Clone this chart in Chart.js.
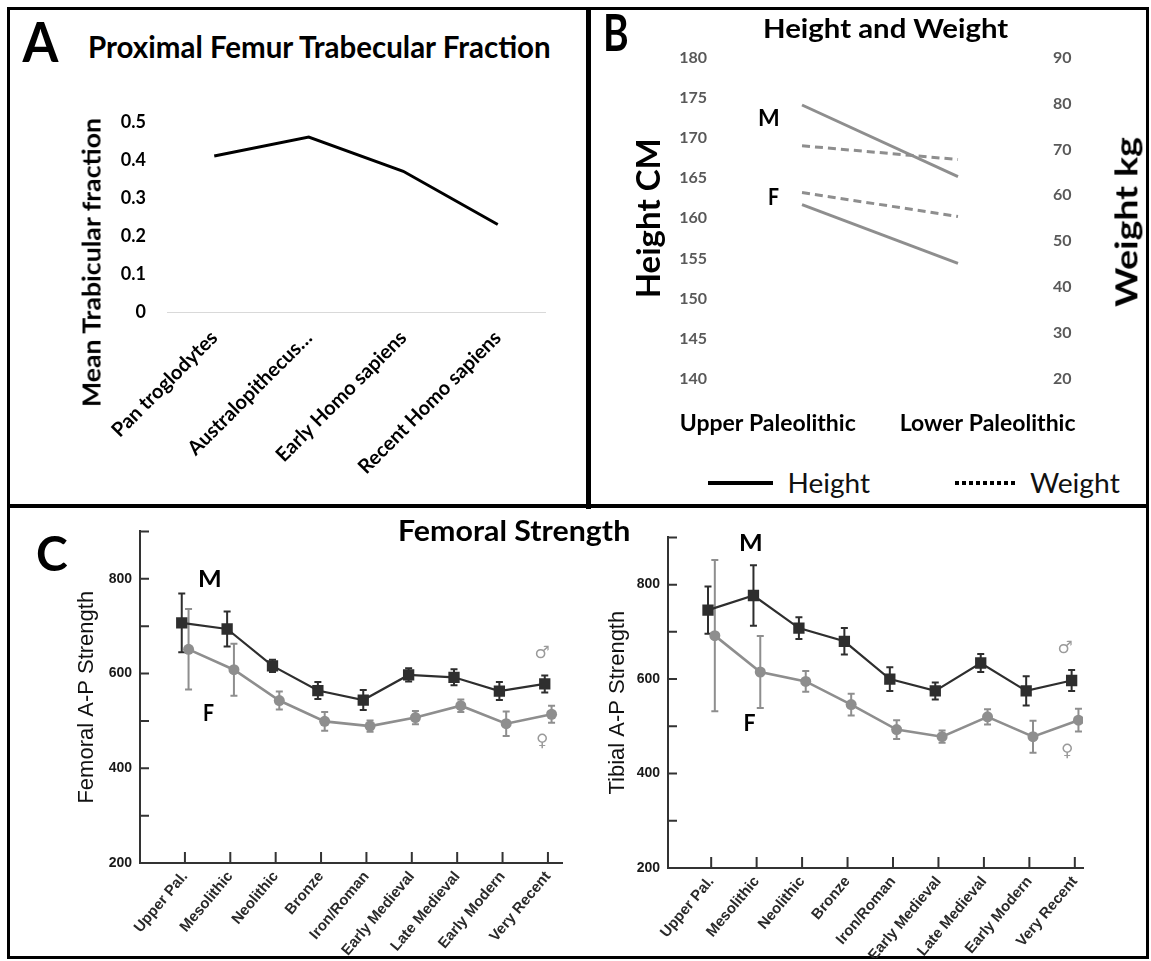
<!DOCTYPE html>
<html>
<head>
<meta charset="utf-8">
<script src="https://cdn.jsdelivr.net/npm/chart.js@4.4.1/dist/chart.umd.min.js"></script>
<style>
  html, body { margin: 0; padding: 0; background: #fff; }
  #fig { position: relative; width: 1151px; height: 961px; overflow: hidden; background: #fff; }
  .rule { position: absolute; background: #000; }
  canvas { position: absolute; }
  .txt { position: absolute; white-space: nowrap; line-height: 1; color: #000; }
</style>
</head>
<body>
<div id="fig">
  <!-- frame and panel dividers -->
  <div style="position:absolute;left:7px;top:7px;width:1142px;height:952px;box-sizing:border-box;border:3px solid #000"></div>
  <div class="rule" style="left:586px;top:7px;width:5px;height:502px"></div>
  <div class="rule" style="left:7px;top:504px;width:1142px;height:4px"></div>

  <canvas id="chartA" width="500" height="410" style="left:60px;top:90px"></canvas>
  <canvas id="chartB" width="545" height="410" style="left:600px;top:40px"></canvas>
  <canvas id="chartFemur" width="530" height="443" style="left:40px;top:515px"></canvas>
  <canvas id="chartTibia" width="500" height="437" style="left:600px;top:521px"></canvas>

  <!-- legend of panel B -->
  <div class="rule" style="left:708px;top:481px;width:65px;height:4px"></div>
  <div style="position:absolute;left:955px;top:481px;width:63px;height:4px;background:repeating-linear-gradient(to right,#000 0 4px,transparent 4px 7px)"></div>
</div>

<script>
// Panel A: proximal femur trabecular fraction
const groupsA = ['Pan troglodytes', 'Australopithecus…', 'Early Homo sapiens', 'Recent Homo sapiens'];
const trabFraction = [0.41, 0.46, 0.37, 0.23];

// Panel B: height (cm) and weight (kg)
const periodsB = ['Upper Paleolithic', 'Lower Paleolithic'];
const heightMale = [174.1, 165.2];
const heightFemale = [161.7, 154.4];
const weightMale = [70.8, 67.8];
const weightFemale = [60.6, 55.4];

// Panel C: femoral and tibial A-P strength, mean and error
const periodsC = ['Upper Pal.', 'Mesolithic', 'Neolithic', 'Bronze', 'Iron/Roman', 'Early Medieval', 'Late Medieval', 'Early Modern', 'Very Recent'];
const femurMale = [707, 694, 616, 564, 544, 597, 592, 563, 578];
const femurMaleErr = [62, 37, 13, 18, 21, 14, 17, 19, 18];
const femurFemale = [651, 608, 543, 499, 489, 507, 532, 494, 514];
const femurFemaleErr = [85, 55, 19, 20, 12, 14, 13, 26, 18];
const tibiaMale = [746, 777, 708, 680, 600, 575, 634, 575, 597];
const tibiaMaleErr = [50, 64, 23, 28, 25, 18, 19, 31, 22];
const tibiaFemale = [692, 615, 595, 546, 493, 478, 520, 478, 513];
const tibiaFemaleErr = [160, 76, 22, 23, 20, 13, 16, 34, 24];

Chart.defaults.font.family = 'Lato';
Chart.defaults.animation = false;

const fig = document.getElementById('fig');
const lineGray = '#8e8e8e';
const darkGray = '#2e2e2e';

// text helper: centred at (x, y), stretched to the given width
function addText(str, o) {
  const el = document.createElement('div');
  el.className = 'txt';
  el.textContent = str;
  el.style.font = o.font;
  if (o.color) el.style.color = o.color;
  fig.appendChild(el);
  const w = el.offsetWidth, h = el.offsetHeight;
  const sx = o.width ? o.width / w : 1;
  el.style.left = (o.x - w / 2) + 'px';
  el.style.top = (o.y - h / 2) + 'px';
  el.style.transform = 'rotate(' + (o.rot || 0) + 'deg) scaleX(' + sx + ')';
}

// ---------- Panel A ----------
new Chart(document.getElementById('chartA'), {
  type: 'line',
  data: {
    labels: groupsA,
    datasets: [{
      data: trabFraction,
      borderColor: '#000',
      borderWidth: 3,
      pointRadius: 0,
      tension: 0
    }]
  },
  options: {
    responsive: false,
    layout: { padding: { top: 27, right: 15 } },
    plugins: { legend: { display: false }, tooltip: { enabled: false } },
    scales: {
      x: {
        type: 'category',
        offset: true,
        grid: { display: false, drawTicks: false },
        border: { display: true, color: '#d9d9d9', width: 1 },
        ticks: {
          font: { size: 20, weight: 'bold' },
          color: '#000',
          minRotation: 45,
          maxRotation: 45,
          autoSkip: false,
          padding: 14
        },
        afterFit: function(s) { s.height = 188; }
      },
      y: {
        min: 0,
        max: 0.5,
        grid: { display: false, drawTicks: false },
        border: { display: false },
        ticks: {
          stepSize: 0.1,
          font: { size: 18, weight: 'bold' },
          color: '#000',
          padding: 21,
          callback: function(v) { return v === 0 ? '0' : v.toFixed(1); }
        },
        afterFit: function(s) { s.width = 107; }
      }
    }
  }
});

// ---------- Panel B ----------
const labelPosB = [-0.22, 1.19];
const pts = arr => arr.map((v, i) => ({ x: i, y: v }));

new Chart(document.getElementById('chartB'), {
  type: 'line',
  data: {
    datasets: [
      { label: 'Height M', data: pts(heightMale), yAxisID: 'yH', borderColor: lineGray, borderWidth: 3, pointRadius: 0 },
      { label: 'Height F', data: pts(heightFemale), yAxisID: 'yH', borderColor: lineGray, borderWidth: 3, pointRadius: 0 },
      { label: 'Weight M', data: pts(weightMale), yAxisID: 'yW', borderColor: lineGray, borderWidth: 3, borderDash: [8, 5], pointRadius: 0 },
      { label: 'Weight F', data: pts(weightFemale), yAxisID: 'yW', borderColor: lineGray, borderWidth: 3, borderDash: [8, 5], pointRadius: 0 }
    ]
  },
  options: {
    responsive: false,
    layout: { padding: { top: 15 } },
    plugins: { legend: { display: false }, tooltip: { enabled: false } },
    scales: {
      x: {
        type: 'linear',
        min: -0.558,
        max: 1.558,
        grid: { display: false, drawTicks: false },
        border: { display: false },
        afterBuildTicks: function(s) { s.ticks = labelPosB.map(v => ({ value: v })); },
        ticks: {
          font: { size: 23, weight: 'bold' },
          color: '#000',
          padding: 31,
          minRotation: 0,
          maxRotation: 0,
          autoSkip: false,
          callback: function(v, i) { return periodsB[i]; }
        },
        afterFit: function(s) { s.height = 71; }
      },
      yH: {
        position: 'left',
        min: 140,
        max: 180,
        grid: { display: false, drawTicks: false },
        border: { display: false },
        ticks: { stepSize: 5, font: { size: 16, weight: 'bold' }, color: '#595959', padding: 8 },
        title: { display: true, text: 'Height CM', font: { size: 33, weight: 'bold' }, color: '#000', padding: { top: 30, bottom: 0 } },
        afterFit: function(s) { s.width = 115; }
      },
      yW: {
        position: 'right',
        min: 20,
        max: 90,
        grid: { display: false, drawTicks: false },
        border: { display: false },
        ticks: { stepSize: 10, font: { size: 16, weight: 'bold' }, color: '#595959', padding: 8 },
        afterFit: function(s) { s.width = 100; }
      }
    }
  }
});

// ---------- Panel C ----------
// error bars drawn under the markers
const errorBars = {
  id: 'errorBars',
  beforeDatasetsDraw(chart) {
    const ctx = chart.ctx, y = chart.scales.y;
    chart.data.datasets.forEach((ds, di) => {
      if (!ds.errors) return;
      const meta = chart.getDatasetMeta(di);
      ctx.save();
      ctx.strokeStyle = ds.borderColor;
      ctx.lineWidth = 2;
      meta.data.forEach((pt, i) => {
        const v = ds.data[i].y, e = ds.errors[i];
        const top = y.getPixelForValue(v + e), bot = y.getPixelForValue(v - e);
        ctx.beginPath();
        ctx.moveTo(pt.x, top); ctx.lineTo(pt.x, bot);
        ctx.moveTo(pt.x - 3.5, top); ctx.lineTo(pt.x + 3.5, top);
        ctx.moveTo(pt.x - 3.5, bot); ctx.lineTo(pt.x + 3.5, bot);
        ctx.stroke();
      });
      ctx.restore();
    });
  }
};

// tick marks pointing into the plot
const inwardTicks = {
  id: 'inwardTicks',
  afterDraw(chart) {
    const { ctx, chartArea: a, scales: { x, y } } = chart;
    ctx.save();
    ctx.strokeStyle = '#333';
    ctx.lineWidth = 2;
    ctx.beginPath();
    y.ticks.forEach(t => {
      const p = y.getPixelForValue(t.value);
      ctx.moveTo(a.left, p); ctx.lineTo(a.left + 9, p);
    });
    x.ticks.forEach(t => {
      const p = x.getPixelForValue(t.value);
      ctx.moveTo(p, a.bottom); ctx.lineTo(p, a.bottom - 11);
    });
    ctx.stroke();
    ctx.restore();
  }
};

function strengthChart(id, cfg) {
  const shifted = (arr, dx) => arr.map((v, i) => ({ x: i + dx, y: v }));
  return new Chart(document.getElementById(id), {
    type: 'line',
    data: {
      datasets: [
        {
          label: 'M',
          data: shifted(cfg.male, -0.07),
          errors: cfg.maleErr,
          borderColor: darkGray,
          backgroundColor: darkGray,
          borderWidth: 2.2,
          pointStyle: 'rect',
          pointRadius: 8,
          pointBorderWidth: 0
        },
        {
          label: 'F',
          data: shifted(cfg.female, 0.08),
          errors: cfg.femaleErr,
          borderColor: lineGray,
          backgroundColor: lineGray,
          borderWidth: 2.6,
          pointStyle: 'circle',
          pointRadius: 5.5,
          pointBorderWidth: 0
        }
      ]
    },
    options: {
      responsive: false,
      layout: { padding: { top: 10, right: cfg.padRight } },
      plugins: { legend: { display: false }, tooltip: { enabled: false } },
      scales: {
        x: {
          type: 'linear',
          min: cfg.xMin,
          max: cfg.xMax,
          grid: { display: false, drawTicks: false },
          border: { display: true, color: '#333', width: 2 },
          afterBuildTicks: function(s) { s.ticks = periodsC.map((p, i) => ({ value: i })); },
          ticks: {
            font: { family: 'Liberation Sans', size: 15, weight: 'bold' },
            color: '#2a2a2a',
            minRotation: 50,
            maxRotation: 50,
            autoSkip: false,
            padding: 5,
            callback: function(v, i) { return periodsC[i]; }
          },
          afterFit: function(s) { s.height = cfg.xHeight; }
        },
        y: {
          min: 200,
          max: 900,
          grid: { display: false, drawTicks: false },
          border: { display: true, color: '#333', width: 2 },
          ticks: {
            stepSize: 100,
            font: { family: 'Liberation Sans', size: 14, weight: 'bold' },
            color: '#1a1a1a',
            padding: 8,
            callback: function(v) { return v % 200 === 0 ? v : ''; }
          },
          title: {
            display: true,
            text: cfg.title,
            font: { family: 'Liberation Sans', size: 22 },
            color: '#111',
            padding: { top: cfg.titlePad, bottom: 0 }
          },
          afterFit: function(s) { s.width = cfg.yWidth; }
        }
      }
    },
    plugins: [errorBars, inwardTicks]
  });
}

strengthChart('chartFemur', {
  male: femurMale, maleErr: femurMaleErr, female: femurFemale, femaleErr: femurFemaleErr,
  title: 'Femoral A-P Strength', titlePad: 34,
  xMin: -0.99, xMax: 8.31, yWidth: 100, xHeight: 95, padRight: 8
});

strengthChart('chartTibia', {
  male: tibiaMale, maleErr: tibiaMaleErr, female: tibiaFemale, femaleErr: tibiaFemaleErr,
  title: 'Tibial A-P Strength', titlePad: 5,
  xMin: -0.95, xMax: 8.18, yWidth: 68, xHeight: 90, padRight: 17
});

// ---------- panel letters, titles and annotations ----------
addText('A', { x: 40, y: 40, font: 'bold 56px Lato', width: 36 });
addText('Proximal Femur Trabecular Fraction', { x: 319.5, y: 46, font: 'bold 30px Lato', width: 463 });
addText('Mean Trabicular fraction', { x: 91, y: 262.5, font: 'bold 24px Lato', width: 289, rot: -90 });

addText('B', { x: 616, y: 31.5, font: 'bold 51px Lato', width: 26 });
addText('Height and Weight', { x: 885.5, y: 27.5, font: 'bold 26px Lato', width: 245 });
addText('Weight kg', { x: 1125, y: 222, font: 'bold 31px Lato', width: 170, rot: -90 });
addText('M', { x: 769, y: 117, font: 'bold 23px Lato', width: 22 });
addText('F', { x: 773, y: 196, font: 'bold 23px Lato', width: 11 });
addText('Height', { x: 828.5, y: 482.5, font: '27px Lato', width: 83, color: '#111' });
addText('Weight', { x: 1075, y: 482.5, font: '27px Lato', width: 90, color: '#111' });

addText('C', { x: 52, y: 552, font: 'bold 48px Lato', width: 32 });
addText('Femoral Strength', { x: 514, y: 530, font: 'bold 28px Lato', width: 232 });
addText('M', { x: 210, y: 578, font: 'bold 23px Lato', width: 24 });
addText('F', { x: 208.5, y: 712, font: 'bold 23px Lato', width: 11 });
addText('M', { x: 751, y: 542, font: 'bold 23px Lato', width: 24 });
addText('F', { x: 749, y: 722, font: 'bold 23px Lato', width: 12 });
addText('♂', { x: 542, y: 652, font: '17px "DejaVu Sans"', color: '#9a9a9a' });
addText('♀', { x: 542, y: 740, font: '17px "DejaVu Sans"', color: '#9a9a9a' });
addText('♂', { x: 1065, y: 647, font: '17px "DejaVu Sans"', color: '#9a9a9a' });
addText('♀', { x: 1067, y: 750, font: '17px "DejaVu Sans"', color: '#9a9a9a' });
</script>
</body>
</html>
